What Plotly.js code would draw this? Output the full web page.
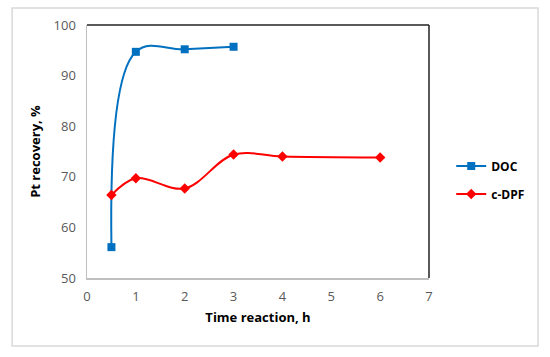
<!DOCTYPE html>
<html><head><meta charset="utf-8">
<script src="https://cdn.plot.ly/plotly-3.0.1.min.js"></script>
<style>body{margin:0;background:#fff}#g{width:550px;height:357px}</style>
</head><body><div id="g"></div>
<script>
const docTime = [0.5, 1, 2, 3];
const docRecovery = [56.1, 94.7, 95.2, 95.7];
const dpfTime = [0.5, 1, 2, 3, 4, 6];
const dpfRecovery = [66.4, 69.7, 67.7, 74.4, 74.0, 73.8];
const xTicks = [0, 1, 2, 3, 4, 5, 6, 7];
const yTicks = [50, 60, 70, 80, 90, 100];

const tickFont = {family: 'Open Sans, Liberation Sans, sans-serif', size: 13, color: '#595959'};
const titleFont = {family: 'Open Sans, Liberation Sans, sans-serif', size: 13, color: '#000', weight: 'bold'};

const traces = [
  {x: docTime, y: docRecovery, name: 'DOC', mode: 'lines+markers', legendgroup: 'a',
   line: {color: '#0070C0', width: 2, shape: 'spline', smoothing: 1.1},
   marker: {symbol: 'square', size: 8, color: '#0070C0'}},
  {x: dpfTime, y: dpfRecovery, name: 'c-DPF', mode: 'lines+markers', legendgroup: 'b',
   line: {color: '#FF0000', width: 2, shape: 'spline', smoothing: 1},
   marker: {symbol: 'diamond', size: 8, color: '#FF0000'}}
];

const layout = {
  width: 550, height: 357,
  margin: {l: 87, r: 121, t: 25, b: 79},
  paper_bgcolor: '#fff', plot_bgcolor: '#fff',
  showlegend: true,
  legend: {x: 1.065, y: 0.5, xanchor: 'left', yanchor: 'top', traceorder: 'grouped',
    font: {family: 'Open Sans, Liberation Sans, sans-serif', size: 12, color: '#000', weight: 'bold'},
    tracegroupgap: 9, bgcolor: 'rgba(0,0,0,0)'},
  xaxis: {range: [0, 7], tickvals: xTicks, ticktext: xTicks.map(String),
    showgrid: false, zeroline: false, showline: true, linecolor: '#bfbfbf', linewidth: 1.5,
    ticks: '', tickfont: tickFont, ticklabelstandoff: 6,
    title: {text: 'Time reaction, h', font: titleFont, standoff: 9}},
  yaxis: {range: [50, 100], tickvals: yTicks, ticktext: yTicks.map(String),
    showgrid: false, zeroline: false, showline: true, linecolor: '#bfbfbf', linewidth: 1.5,
    ticks: '', tickfont: tickFont, ticklabelstandoff: 7,
    title: {text: 'Pt recovery, %', font: titleFont, standoff: 10}},
  shapes: [
    {type: 'line', xref: 'paper', yref: 'paper', x0: 0, x1: 1, y0: 1, y1: 1, line: {color: '#222', width: 1.5}},
    {type: 'line', xref: 'paper', yref: 'paper', x0: 1, x1: 1, y0: 0, y1: 1, line: {color: '#222', width: 1.5}},
    {type: 'rect', xref: 'paper', yref: 'paper', x0: -0.219, x1: 1.3187, y0: -0.269, y1: 1.067,
     line: {color: '#d9d9d9', width: 1.5}, layer: 'below'}
  ]
};

Plotly.newPlot('g', traces, layout, {displayModeBar: false, staticPlot: true});
</script></body></html>
